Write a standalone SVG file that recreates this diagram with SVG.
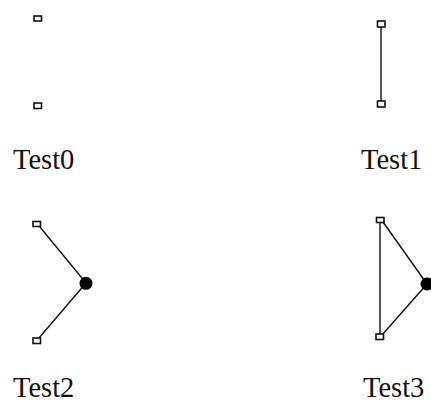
<svg xmlns="http://www.w3.org/2000/svg" width="431" height="404" viewBox="0 0 431 404">
<style>
.sq{fill:#fff;stroke:#111;stroke-width:1.6}
.dot{fill:#000}
.ln{stroke:#111;stroke-width:1.4;fill:none}
.lbl{font-family:"Liberation Serif","Times New Roman",serif;font-size:28.5px;fill:#111}
</style>
<rect width="431" height="404" fill="#fff"/>
<g id="connectors">
<line class="ln" x1="381" y1="27" x2="381" y2="101"/>
<line class="ln" x1="40" y1="227" x2="86" y2="283"/>
<line class="ln" x1="86" y1="283" x2="39" y2="338"/>
<line class="ln" x1="380" y1="223" x2="380" y2="334"/>
<line class="ln" x1="383" y1="222" x2="427" y2="284"/>
<line class="ln" x1="427" y1="284" x2="382" y2="335"/>
</g>
<g id="test0">
<rect class="sq" x="34" y="16" width="7.5" height="5"/>
<rect class="sq" x="34" y="103" width="7.5" height="5.5"/>
<text class="lbl" x="13" y="169">Test0</text>
</g>
<g id="test1">
<rect class="sq" x="377.5" y="21" width="7.5" height="6"/>
<rect class="sq" x="377.5" y="101" width="7.5" height="6"/>
<text class="lbl" x="361" y="169">Test1</text>
</g>
<g id="test2">
<rect class="sq" x="33" y="221.5" width="7.5" height="5"/>
<rect class="sq" x="33" y="338" width="7.5" height="5.5"/>
<circle class="dot" cx="86" cy="283.3" r="6.5"/>
<text class="lbl" x="13" y="397">Test2</text>
</g>
<g id="test3">
<rect class="sq" x="376.5" y="217.5" width="7.5" height="5"/>
<rect class="sq" x="376" y="334" width="7.5" height="5.5"/>
<circle class="dot" cx="427" cy="284" r="6.5"/>
<text class="lbl" x="363" y="397">Test3</text>
</g>
</svg>
